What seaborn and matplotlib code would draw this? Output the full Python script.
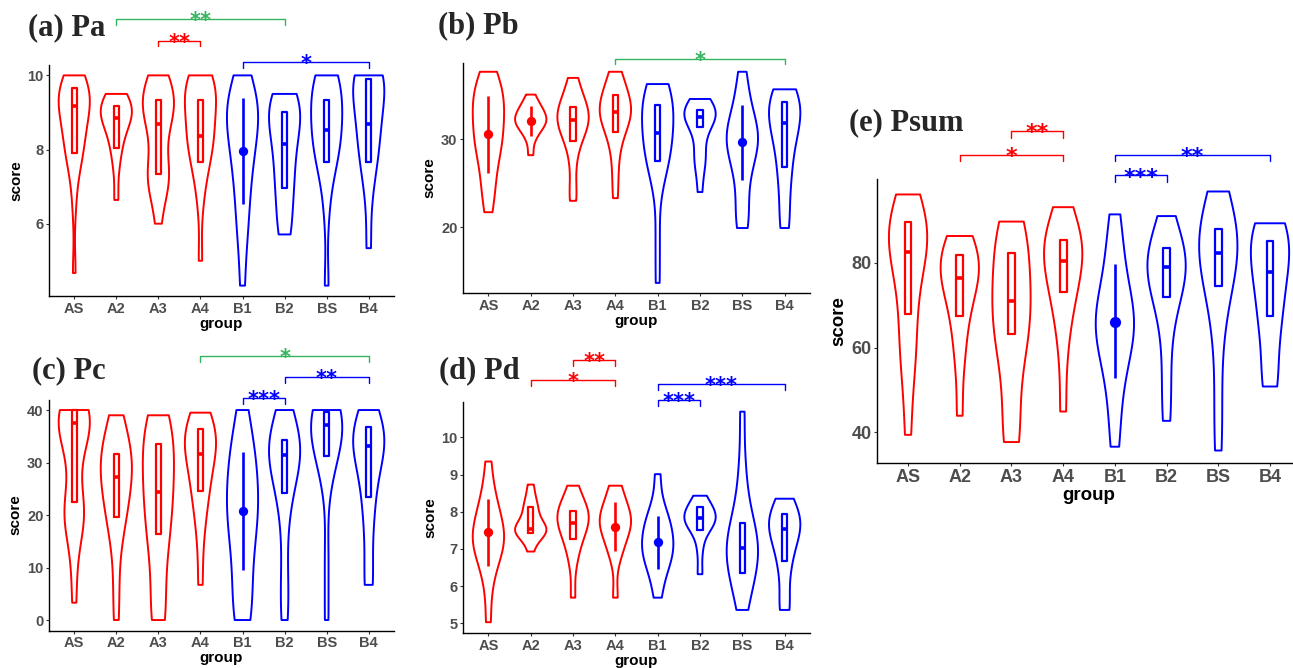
import numpy as np
import pandas as pd
import seaborn as sns
import matplotlib.pyplot as plt

groups = ["AS", "A2", "A3", "A4", "B1", "B2", "BS", "B4"]
RED, BLUE, GREEN = "#FF0000", "#0000FF", "#35B45E"
group_colors = [RED, RED, RED, RED, BLUE, BLUE, BLUE, BLUE]
nan = np.nan

# ---- (a) Pa
pa_scores = [
    [4.67, 6.5, 7.33, 7.67, 7.83, 8.0, 8.17, 8.33, 8.5, 8.67, 8.83, 9.0, 9.17, 9.17, 9.33, 9.33, 9.5, 9.5, 9.67, 9.67, 9.83, 10, 10],
    [6.64, 7.5, 8.0, 8.17, 8.5, 8.67, 8.83, 8.83, 9.0, 9.0, 9.17, 9.17, 9.33, 9.5, 9.5],
    [6.0, 6.83, 7.0, 7.17, 7.33, 7.5, 7.83, 8.33, 8.67, 8.83, 9.0, 9.17, 9.33, 9.33, 9.5, 9.67, 10, 10],
    [5.0, 6.5, 7.17, 7.5, 7.67, 8.0, 8.17, 8.33, 8.33, 8.5, 8.67, 9.0, 9.17, 9.33, 9.33, 9.5, 9.67, 9.67, 10, 10, 10],
    [4.33, 5.5, 6.0, 6.5, 7.0, 7.33, 7.67, 8.0, 8.17, 8.5, 8.67, 8.83, 9.0, 9.17, 9.33, 9.5, 9.67, 10],
    [5.71, 5.83, 6.33, 6.83, 7.0, 7.33, 7.67, 8.0, 8.17, 8.5, 8.67, 8.83, 9.0, 9.17, 9.33, 9.5, 9.5],
    [4.33, 6.33, 7.33, 7.67, 7.83, 8.0, 8.33, 8.5, 8.67, 8.83, 9.0, 9.33, 9.5, 9.67, 9.83, 10, 10],
    [5.34, 6.67, 7.5, 7.67, 8.0, 8.33, 8.67, 8.83, 9.0, 9.33, 9.67, 9.83, 10, 10, 10, 10],
]
pa_q1 = [7.91, 8.05, 7.34, 7.66, nan, 6.97, 7.66, 7.66]
pa_med = [9.18, 8.86, 8.68, 8.36, nan, 8.14, 8.52, 8.68]
pa_q3 = [9.67, 9.17, 9.34, 9.34, nan, 9.01, 9.34, 9.91]
pa_mean = [nan, nan, nan, nan, 7.96, nan, nan, nan]
pa_lo = [nan, nan, nan, nan, 6.52, nan, nan, nan]
pa_hi = [nan, nan, nan, nan, 9.40, nan, nan, nan]
pa_brackets = [("A2", "B2", 11.51, "**", GREEN), ("A3", "A4", 10.93, "**", RED), ("B1", "B4", 10.36, "*", BLUE)]

# ---- (b) Pb
pb_scores = [
    [21.7, 24, 25, 27, 28, 29, 30, 30, 31, 32, 33, 33, 34, 35, 35, 36, 37, 37.7],
    [28.2, 30, 31, 31, 32, 32, 32, 32, 33, 33, 33, 34, 34, 35.1],
    [23, 24, 27, 29, 30, 31, 31, 32, 32, 32, 33, 33, 33, 34, 34, 35, 36, 37],
    [23.3, 26, 28.5, 30, 31, 32, 32, 33, 33, 33, 34, 34, 35, 35, 36, 37, 37.7],
    [13.65, 19, 25, 27, 27.5, 28, 29, 30, 30.7, 31, 32, 33, 34, 34, 35, 35, 36, 36.3],
    [24, 26.5, 28, 28, 30, 31.4, 32, 32.5, 32.6, 33, 33, 33.3, 33.5, 34, 34.6],
    [19.9, 20.5, 22, 24, 26, 27, 28, 29, 29.5, 30, 30, 31, 31, 32, 33, 34, 36, 37.7],
    [19.9, 21, 24, 26, 27, 29, 30, 31, 32, 32, 33, 34, 34, 35, 35, 35.7],
]
pb_q1 = [nan, nan, 29.8, 30.8, 27.5, 31.4, nan, 26.9]
pb_med = [nan, nan, 32.2, 33.1, 30.7, 32.6, nan, 31.9]
pb_q3 = [nan, nan, 33.7, 35.0, 33.9, 33.3, nan, 34.3]
pb_mean = [30.6, 32.1, nan, nan, nan, nan, 29.7, nan]
pb_lo = [26.2, 30.4, nan, nan, nan, nan, 25.4, nan]
pb_hi = [34.9, 33.8, nan, nan, nan, nan, 33.9, nan]
pb_brackets = [("A4", "B4", 39.16, "*", GREEN)]

# ---- (c) Pc
pc_scores = [
    [3.3, 11, 18, 19, 20, 20.5, 21, 22, 28, 33, 35, 36, 37, 37.6, 38, 39, 40, 40, 40, 40],
    [0, 7, 14, 18, 19.6, 21, 23, 25, 27, 27.3, 28, 30, 31, 32, 33, 35, 37, 39],
    [0, 0, 4, 10, 14, 16.3, 18, 21, 24, 24.3, 26, 29, 31, 33.5, 34, 36, 38, 39],
    [6.7, 15, 20, 23, 24.6, 27, 29, 31, 31.7, 33, 34, 35, 36.3, 37, 38, 39.5],
    [0, 0, 3, 7, 10, 13, 16, 18, 20, 21, 23, 25, 27, 29, 31, 33, 36, 40],
    [0, 4, 10, 18, 24, 24.2, 28, 30, 31, 31.4, 32, 33, 34, 34.3, 36, 38, 40],
    [0, 12, 27, 31, 31.2, 34, 36, 37, 37.1, 38, 39, 39.6, 40, 40],
    [6.7, 7, 15, 20, 23.4, 26, 29, 32, 33, 33.1, 34, 35, 36, 36.8, 38, 40],
]
pc_q1 = [22.4, 19.6, 16.3, 24.6, nan, 24.2, 31.2, 23.4]
pc_med = [37.6, 27.3, 24.3, 31.7, nan, 31.4, 37.1, 33.1]
pc_q3 = [40.0, 31.7, 33.5, 36.3, nan, 34.3, 39.6, 36.8]
pc_mean = [nan, nan, nan, nan, 20.8, nan, nan, nan]
pc_lo = [nan, nan, nan, nan, 9.5, nan, nan, nan]
pc_hi = [nan, nan, nan, nan, 32.1, nan, nan, nan]
pc_brackets = [("A4", "B4", 50.2, "*", GREEN), ("B2", "B4", 46.2, "**", BLUE), ("B1", "B2", 42.2, "***", BLUE)]

# ---- (d) Pd
pd_scores = [
    [5.03, 6.0, 6.5, 6.8, 7.0, 7.1, 7.2, 7.3, 7.5, 7.6, 7.8, 8.0, 8.3, 8.6, 9.35],
    [6.93, 7.3, 7.4, 7.45, 7.5, 7.5, 7.53, 7.6, 7.7, 7.9, 8.1, 8.15, 8.4, 8.73],
    [5.69, 6.6, 7.0, 7.27, 7.4, 7.6, 7.71, 7.8, 7.9, 8.0, 8.02, 8.2, 8.4, 8.7],
    [5.69, 6.8, 7.0, 7.3, 7.5, 7.6, 7.7, 7.8, 7.9, 8.0, 8.2, 8.5, 8.7],
    [5.69, 6.2, 6.5, 6.7, 6.8, 7.0, 7.1, 7.2, 7.4, 7.6, 7.7, 7.9, 8.2, 9.01],
    [6.32, 7.0, 7.51, 7.6, 7.7, 7.8, 7.82, 7.9, 8.0, 8.12, 8.2, 8.43],
    [5.36, 5.8, 6.2, 6.34, 6.6, 6.8, 7.0, 7.02, 7.2, 7.4, 7.69, 7.9, 8.5, 9.3, 10.69],
    [5.36, 5.5, 6.3, 6.68, 7.0, 7.3, 7.5, 7.53, 7.7, 7.8, 7.95, 8.1, 8.35],
]
pd_q1 = [nan, 7.44, 7.27, nan, nan, 7.51, 6.34, 6.68]
pd_med = [nan, 7.53, 7.71, nan, nan, 7.82, 7.02, 7.53]
pd_q3 = [nan, 8.12, 8.02, nan, nan, 8.12, 7.69, 7.95]
pd_mean = [7.45, nan, nan, 7.60, 7.18, nan, nan, nan]
pd_lo = [6.54, nan, nan, 6.94, 6.45, nan, nan, nan]
pd_hi = [8.33, nan, nan, 8.27, 7.89, nan, nan, nan]
pd_brackets = [("A3", "A4", 12.08, "**", RED), ("A2", "A4", 11.54, "*", RED),
               ("B1", "B4", 11.43, "***", BLUE), ("B1", "B2", 11.0, "***", BLUE)]

# ---- (e) Psum
ps_scores = [
    [39.4, 52, 58, 62, 67.9, 72, 78, 81, 82.5, 84, 86, 88, 89.5, 91, 93, 96.1],
    [43.9, 56, 62, 67.4, 70, 74, 76, 76.5, 78, 80, 81.8, 83, 85, 86.3],
    [37.7, 39, 48, 56, 60, 63.2, 66, 70, 71, 74, 78, 82.4, 85, 88, 89.7],
    [44.9, 58, 66, 70, 73.2, 76, 79, 80.5, 82, 84, 85.3, 87, 90, 93.1],
    [36.6, 45, 52, 56, 60, 62, 64, 66, 67, 69, 72, 75, 80, 85, 91.4],
    [42.7, 52, 62, 70, 72, 75, 78, 79.1, 80, 82, 83.5, 86, 91],
    [35.7, 48, 62, 70, 74.5, 78, 80, 82.2, 84, 86, 87.9, 90, 93, 96.8],
    [50.8, 52, 60, 66, 67.4, 72, 76, 77.8, 80, 83, 85.2, 87, 89.3, 89.3],
]
ps_q1 = [67.9, 67.4, 63.2, 73.2, nan, 72.0, 74.5, 67.4]
ps_med = [82.5, 76.5, 71.0, 80.5, nan, 79.1, 82.2, 77.8]
ps_q3 = [89.5, 81.8, 82.4, 85.3, nan, 83.5, 87.9, 85.2]
ps_mean = [nan, nan, nan, nan, 66.1, nan, nan, nan]
ps_lo = [nan, nan, nan, nan, 52.9, nan, nan, nan]
ps_hi = [nan, nan, nan, nan, 79.7, nan, nan, nan]
ps_brackets = [("A3", "A4", 111.06, "**", RED), ("A2", "A4", 105.5, "*", RED),
               ("B1", "B4", 105.5, "**", BLUE), ("B1", "B2", 100.6, "***", BLUE)]

sns.set_theme(style="ticks")
plt.rcParams["font.family"] = ["Liberation Sans", "DejaVu Sans"]

fig = plt.figure(figsize=(12.93, 6.68), dpi=100)


def draw_panel(rect, title, title_xy, scores, q1, med, q3, mean, lo, hi,
               ylim, yticks, brackets, fs=10.5, star=15, dot=45):
    ax = fig.add_axes(rect)
    df = pd.DataFrame({
        "group": np.repeat(groups, [len(s) for s in scores]),
        "score": np.concatenate(scores),
    })
    sns.violinplot(data=df, x="group", y="score", hue="group", order=groups,
                   hue_order=groups, palette=dict(zip(groups, group_colors)),
                   fill=False, inner=None, cut=0, density_norm="width",
                   width=0.74, linewidth=1.4, bw_adjust=0.85, legend=False, ax=ax)
    for i, c in enumerate(group_colors):
        if not np.isnan(med[i]):
            ax.bxp([{"med": med[i], "q1": q1[i], "q3": q3[i],
                     "whislo": q1[i], "whishi": q3[i]}],
                   positions=[i], widths=0.13, showcaps=False, showfliers=False,
                   manage_ticks=False,
                   boxprops=dict(color=c, lw=1.6),
                   whiskerprops=dict(color=c, lw=0),
                   medianprops=dict(color=c, lw=2.6))
        else:
            ax.vlines(i, lo[i], hi[i], color=c, lw=1.9, zorder=4)
            ax.scatter([i], [mean[i]], s=dot, color=c, zorder=5, linewidths=0)

    span = ylim[1] - ylim[0]
    for g1, g2, y, label, c in brackets:
        x1, x2 = groups.index(g1), groups.index(g2)
        t = 0.024 * span
        ax.plot([x1, x1, x2, x2], [y - t, y, y, y - t], color=c, lw=1.0, clip_on=False)
        ax.annotate(label, ((x1 + x2) / 2, y), xytext=(0, -0.38 * star),
                    textcoords="offset points", ha="center", va="baseline",
                    color=c, fontsize=star, fontweight="bold",
                    family="DejaVu Sans", annotation_clip=False)

    ax.set_xlim(-0.6, 7.6)
    ax.set_ylim(*ylim)
    ax.set_yticks(yticks)
    ax.set_xlabel("group", fontsize=fs + 0.5, fontweight="bold", color="black", labelpad=1)
    ax.set_ylabel("score", fontsize=fs + 0.5, fontweight="bold", color="black", labelpad=3)
    ax.tick_params(length=2.5, width=0.8, color="#333333", pad=1.5,
                   labelsize=fs, labelcolor="#4D4D4D")
    for lab in ax.get_xticklabels() + ax.get_yticklabels():
        lab.set_fontweight("bold")
    sns.despine(ax=ax)
    for s in ("left", "bottom"):
        ax.spines[s].set_linewidth(1.0)
        ax.spines[s].set_color("black")
    fig.text(title_xy[0], title_xy[1], title, family="Liberation Serif",
             fontweight="bold", fontsize=22, va="baseline")
    return ax


draw_panel([0.0379, 0.5569, 0.2668, 0.3458], "(a) Pa", (0.0217, 0.948),
           pa_scores, pa_q1, pa_med, pa_q3, pa_mean, pa_lo, pa_hi,
           (4.05, 10.28), [6, 8, 10], pa_brackets)
draw_panel([0.3581, 0.5614, 0.2684, 0.3443], "(b) Pb", (0.3387, 0.951),
           pb_scores, pb_q1, pb_med, pb_q3, pb_mean, pb_lo, pb_hi,
           (12.5, 38.7), [20, 30], pb_brackets)
draw_panel([0.0379, 0.0561, 0.2668, 0.3458], "(c) Pc", (0.0247, 0.434),
           pc_scores, pc_q1, pc_med, pc_q3, pc_mean, pc_lo, pc_hi,
           (-2, 42), [0, 10, 20, 30, 40], pc_brackets)
draw_panel([0.3581, 0.0524, 0.2684, 0.3458], "(d) Pd", (0.3395, 0.434),
           pd_scores, pd_q1, pd_med, pd_q3, pd_mean, pd_lo, pd_hi,
           (4.74, 10.95), [5, 6, 7, 8, 9, 10], pd_brackets)
draw_panel([0.6783, 0.3069, 0.3279, 0.4251], "(e) Psum", (0.6566, 0.805),
           ps_scores, ps_q1, ps_med, ps_q3, ps_mean, ps_lo, ps_hi,
           (32.76, 99.74), [40, 60, 80], ps_brackets, fs=13, star=16, dot=65)

fig.savefig("out.png", dpi=100)
